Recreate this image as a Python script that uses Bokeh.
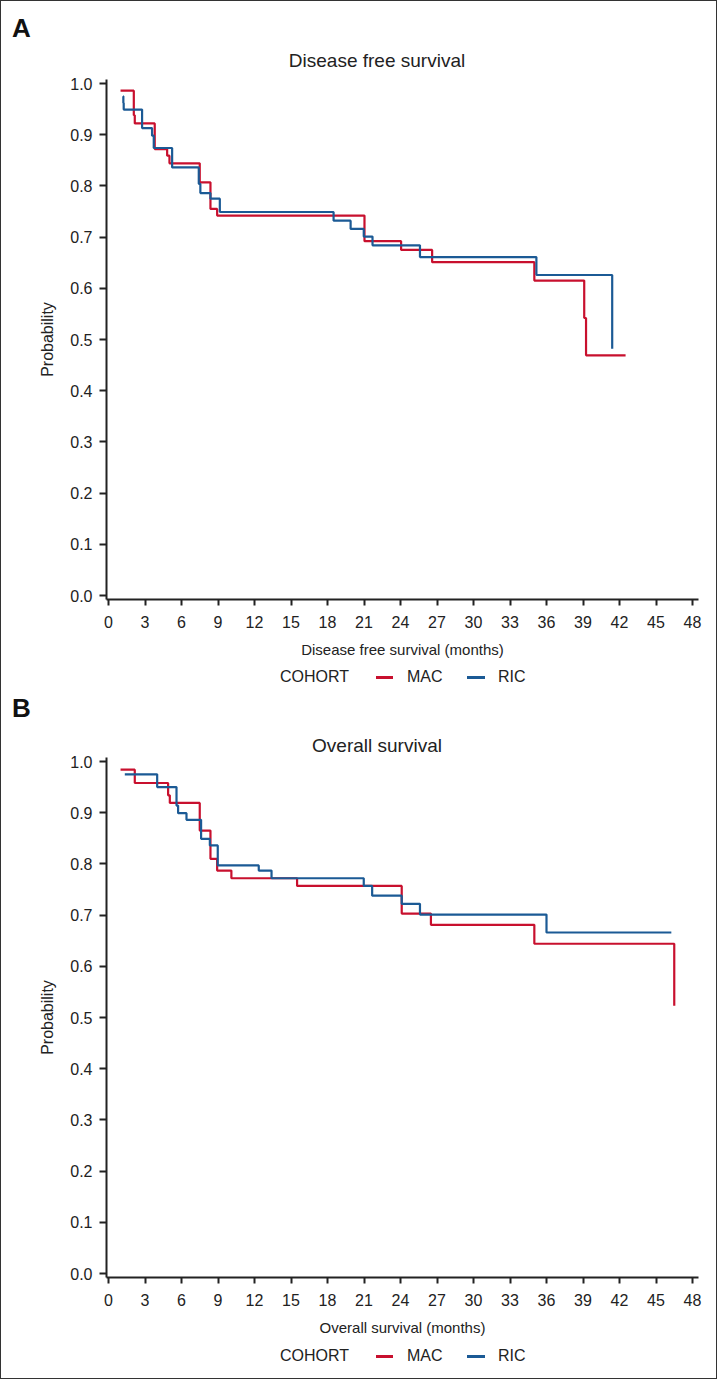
from bokeh.plotting import figure
from bokeh.layouts import column
from bokeh.models import Range1d, FixedTicker, Div
from bokeh.embed import file_html
from bokeh.resources import INLINE

# ---------------- data ----------------
# Panel A: disease free survival (months, probability after each step)
dfs_mac_t = [0.99, 2.08, 2.16, 3.80, 4.82, 5.01, 7.50, 8.38, 8.93, 21.04, 24.05, 26.6, 35.0, 39.1, 39.25, 42.5]
dfs_mac_s = [0.986, 0.938, 0.922, 0.872, 0.859, 0.844, 0.807, 0.755, 0.742, 0.692, 0.675, 0.651, 0.615, 0.542, 0.469, 0.469]
dfs_ric_t = [1.2, 1.22, 1.25, 2.76, 3.58, 3.72, 5.23, 7.42, 7.55, 8.38, 9.15, 18.5, 19.9, 20.98, 21.7, 25.6, 35.17, 41.4]
dfs_ric_s = [0.975, 0.962, 0.949, 0.913, 0.898, 0.874, 0.836, 0.804, 0.786, 0.775, 0.749, 0.732, 0.716, 0.701, 0.684, 0.661, 0.626, 0.482]

# Panel B: overall survival
os_mac_t = [0.99, 2.16, 4.9, 5.04, 7.5, 8.38, 8.93, 10.1, 15.5, 24.1, 26.5, 35.0, 46.5]
os_mac_s = [0.984, 0.958, 0.934, 0.919, 0.865, 0.810, 0.787, 0.772, 0.757, 0.703, 0.681, 0.644, 0.523]
os_ric_t = [1.34, 4.0, 5.59, 5.72, 6.41, 7.61, 8.33, 8.98, 12.35, 13.4, 20.98, 21.67, 24.1, 25.6, 36.0, 46.26]
os_ric_s = [0.975, 0.950, 0.914, 0.899, 0.886, 0.849, 0.836, 0.797, 0.787, 0.772, 0.757, 0.738, 0.722, 0.701, 0.666, 0.666]

x_ticks = list(range(0, 49, 3))
y_ticks = [0.0, 0.1, 0.2, 0.3, 0.4, 0.5, 0.6, 0.7, 0.8, 0.9, 1.0]
y_tick_labels = ["0.0", "0.1", "0.2", "0.3", "0.4", "0.5", "0.6", "0.7", "0.8", "0.9", "1.0"]
series_names = ["MAC", "RIC"]
legend_title = "COHORT"

# ---------------- style ----------------
RED = "#C8102E"
BLUE = "#1B5A95"
AXC = "#222222"
FONT = "Liberation Sans"
CSSFONT = "font-family:'Liberation Sans',Arial,sans-serif;"

PPM = 584 / 48.0          # pixels per month
PPU = 512.0               # pixels per probability unit
XS = -2 / PPM
XE = XS + 592 / PPM
YS = -4 / PPU
YE = YS + 520 / PPU
W = 715


def header_div(letter, title, height, letter_top, title_top):
    html = (
        f'<div style="position:relative;width:{W}px;height:{height}px;{CSSFONT}color:{AXC};">'
        f'<span style="position:absolute;left:11px;top:{letter_top}px;font-size:26px;'
        f'font-weight:bold;line-height:1;color:#111111;white-space:nowrap;">{letter}</span>'
        f'<span style="position:absolute;left:376px;top:{title_top}px;font-size:19px;'
        f'line-height:1;transform:translateX(-50%);white-space:nowrap;">{title}</span>'
        '</div>'
    )
    return Div(text=html, width=W, height=height, margin=(0, 0, 0, 0))


def legend_div(height, top):
    parts = [f'<div style="position:relative;width:{W}px;height:{height}px;{CSSFONT}color:{AXC};font-size:16px;">',
             f'<span style="position:absolute;left:279px;top:{top}px;line-height:1;white-space:nowrap;">{legend_title}</span>']
    for (x0, x1, xt), name, col in zip([(376, 393, 407), (467, 485, 498)], series_names, [RED, BLUE]):
        parts.append(f'<span style="position:absolute;left:{x0 - 1}px;top:{top + 7}px;width:{x1 - x0}px;'
                     f'height:2.5px;background:{col};"></span>')
        parts.append(f'<span style="position:absolute;left:{xt - 1}px;top:{top}px;line-height:1;'
                     f'white-space:nowrap;">{name}</span>')
    parts.append('</div>')
    return Div(text="".join(parts), width=W, height=height, margin=(0, 0, 0, 0))


def plot_fig(xlabel, t1, s1, t2, s2, height, top, bottom):
    p = figure(width=W, height=height, output_backend="svg", toolbar_location=None,
               x_range=Range1d(XS, XE), y_range=Range1d(YS, YE),
               min_border_left=105, min_border_right=18,
               min_border_top=top, min_border_bottom=bottom)
    p.outline_line_color = None
    p.grid.grid_line_color = None
    p.background_fill_color = "white"
    p.border_fill_color = "white"

    for ax in (p.xaxis[0], p.yaxis[0]):
        ax.axis_line_color = AXC
        ax.axis_line_width = 2
        ax.major_tick_line_color = AXC
        ax.major_tick_line_width = 2
        ax.major_tick_in = 0
        ax.minor_tick_line_color = None
        ax.major_label_text_color = AXC
        ax.axis_label_text_color = AXC
        ax.axis_label_text_font_style = "normal"

    p.xaxis.ticker = FixedTicker(ticks=x_ticks)
    p.xaxis.major_tick_out = 6
    p.xaxis.major_label_text_font = FONT
    p.xaxis.major_label_text_font_size = "16px"
    p.xaxis.major_label_standoff = 10
    p.xaxis.axis_label = xlabel
    p.xaxis.axis_label_text_font = FONT
    p.xaxis.axis_label_text_font_size = "15px"
    p.xaxis.axis_label_standoff = 10

    p.yaxis.ticker = FixedTicker(ticks=y_ticks)
    p.yaxis.major_label_overrides = {v: l for v, l in zip(y_ticks, y_tick_labels)}
    p.yaxis.major_tick_out = 7
    p.yaxis.major_label_text_font = FONT
    p.yaxis.major_label_text_font_size = "16px"
    p.yaxis.major_label_standoff = 7
    p.yaxis.axis_label = "Probability"
    p.yaxis.axis_label_text_font = FONT
    p.yaxis.axis_label_text_font_size = "16px"
    p.yaxis.axis_label_standoff = 11

    p.step(t1, s1, mode="after", line_color=RED, line_width=2.2)
    p.step(t2, s2, mode="after", line_color=BLUE, line_width=2.2)
    return p


# Panel A (page y 1..690)
hA = header_div("A", "Disease free survival", 70, 14, 50)
pA = plot_fig("Disease free survival (months)", dfs_mac_t, dfs_mac_s, dfs_ric_t, dfs_ric_s,
              height=593, top=8, bottom=65)
lA = legend_div(26, 5)

# Panel B (page y 690..1378)
hB = header_div("B", "Overall survival", 63, 5, 46)
pB = plot_fig("Overall survival (months)", os_mac_t, os_mac_s, os_ric_t, os_ric_s,
              height=589, top=4, bottom=65)
lB = legend_div(36, 6)

layout = column(hA, pA, lA, hB, pB, lB, spacing=0,
                styles={"border": "1px solid #333333"})

open("out.html", "w").write(file_html(layout, INLINE))
